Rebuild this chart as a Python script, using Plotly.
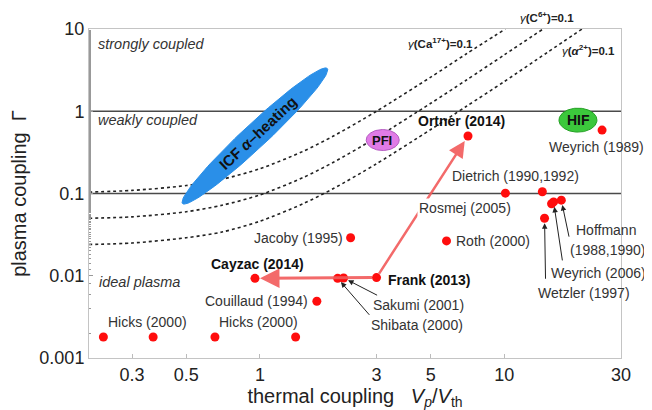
import numpy as np
import plotly.graph_objects as go

# ---------------- data ----------------
exp_names = ["Hicks (2000)", "Hicks (2000)", "Hicks (2000)", "Hicks (2000)",
             "Couillaud (1994)", "Cayzac (2014)", "Shibata (2000)", "Sakumi (2001)",
             "Frank (2013)", "Jacoby (1995)", "Roth (2000)",
             "Dietrich (1990)", "Dietrich (1992)", "Wetzler (1997)",
             "Weyrich (2006)", "Weyrich (2006)", "Hoffmann (1988,1990)",
             "Ortner (2014)", "Weyrich (1989)"]
exp_vp = [0.229, 0.366, 0.655, 1.40,
          1.71, 0.955, 2.08, 2.20,
          3.0, 2.35, 5.8,
          10.1, 14.3, 14.6,
          15.6, 15.9, 17.1,
          7.1, 25.1]
exp_gamma = [0.0018, 0.0018, 0.0018, 0.0018,
             0.0049, 0.0093, 0.0093, 0.0094,
             0.0095, 0.029, 0.0265,
             0.101, 0.105, 0.050,
             0.075, 0.079, 0.083,
             0.50, 0.59]

# gamma(ion)=0.1 curves
ca_vp = [0.2, 0.3, 0.5, 0.7, 1.0, 1.5, 2.0, 3.0, 5.0, 7.0, 10.1]
ca_gamma = [0.104, 0.109, 0.125, 0.149, 0.2, 0.325, 0.5, 1.0, 2.6, 5.0, 10.0]
c_vp = [0.2, 0.3, 0.5, 0.7, 1.0, 1.5, 2.0, 3.0, 5.0, 7.0, 10.0, 14.4]
c_gamma = [0.050, 0.052, 0.060, 0.072, 0.096, 0.156, 0.24, 0.48, 1.25, 2.4, 4.85, 10.0]
al_vp = [0.2, 0.3, 0.5, 0.7, 1.0, 1.5, 2.0, 3.0, 5.0, 7.0, 10.0, 15.0, 20.8]
al_gamma = [0.024, 0.025, 0.029, 0.034, 0.046, 0.075, 0.115, 0.23, 0.6, 1.15, 2.3, 5.2, 10.0]

boundary_gamma = [1.0, 0.1]

x_ticks = [0.3, 0.5, 1, 3, 5, 10, 30]
x_ticktext = ["0.3", "0.5", "1", "3", "5", "10", "30"]
y_ticks = [0.001, 0.01, 0.1, 1, 10]
y_ticktext = ["0.001", "0.01", "0.1", "1", "10"]

X_RANGE = [0.2, 30]
Y_RANGE = [0.001, 10]

# ---------------- layout geometry ----------------
OFF = 8                       # page body margin of the browser
SW, SH = 652, 410             # screen size
W, H = SW - OFF, SH - OFF     # figure size
PL, PR, PT, PB = 89, 621, 29, 358   # plot area on screen
ML, MT = PL - OFF, PT - OFF
MR, MB = W - (PR - OFF), H - (PB - OFF)
PW, PH = PR - PL, PB - PT
PXDX = PW / (np.log10(X_RANGE[1]) - np.log10(X_RANGE[0]))
PXDY = PH / (np.log10(Y_RANGE[1]) - np.log10(Y_RANGE[0]))

FONT = "Arial, Liberation Sans, Helvetica, sans-serif"
L = np.log10


def px(xp, yp):
    """screen pixel -> paper coords"""
    return (xp - PL) / PW, (PB - yp) / PH


def ellipse(xc, yc, a, b, ang, n=120):
    t = np.linspace(0, 2 * np.pi, n)
    th = np.radians(ang)
    dx = a * np.cos(t) * np.cos(th) - b * np.sin(t) * np.sin(th)
    dy = a * np.cos(t) * np.sin(th) + b * np.sin(t) * np.cos(th)
    return 10 ** (L(xc) + dx / PXDX), 10 ** (L(yc) + dy / PXDY)


fig = go.Figure()

# regime boundaries
for g in boundary_gamma:
    fig.add_trace(go.Scatter(x=X_RANGE, y=[g, g], mode="lines",
                             line=dict(color="#4a4a4a", width=1.3),
                             hoverinfo="skip", showlegend=False))

# gamma = 0.1 curves
for cx, cy in [(ca_vp, ca_gamma), (c_vp, c_gamma), (al_vp, al_gamma)]:
    fig.add_trace(go.Scatter(x=cx, y=cy, mode="lines",
                             line=dict(color="#222222", width=1.6, dash="3px,3px",
                                       shape="spline", smoothing=0.8),
                             hoverinfo="skip", showlegend=False))

# regions (ellipses)
ex, ey = ellipse(0.954, 0.50, 99, 12, 43)
fig.add_trace(go.Scatter(x=ex, y=ey, mode="lines", fill="toself",
                         fillcolor="#2a8fe8", line=dict(color="#2a8fe8", width=1),
                         hoverinfo="skip", showlegend=False))
ex, ey = ellipse(3.18, 0.447, 16.5, 10.5, 0)
fig.add_trace(go.Scatter(x=ex, y=ey, mode="lines", fill="toself",
                         fillcolor="#e07be6", line=dict(color="#b35ac0", width=1),
                         hoverinfo="skip", showlegend=False))
ex, ey = ellipse(20.0, 0.78, 19, 12, 0)
fig.add_trace(go.Scatter(x=ex, y=ey, mode="lines", fill="toself",
                         fillcolor="#3cc83c", line=dict(color="#22a022", width=1),
                         hoverinfo="skip", showlegend=False))

# experiments
fig.add_trace(go.Scatter(x=exp_vp, y=exp_gamma, mode="markers",
                         marker=dict(color="#ff0d0d", size=9, line=dict(width=0)),
                         text=exp_names, hoverinfo="text", showlegend=False))

ann = []


def label(text, xp, yp, size=14, color="#333333", **kw):
    x, y = px(xp, yp)
    d = dict(text=text, x=x, y=y, xref="paper", yref="paper", showarrow=False,
             xanchor="center", yanchor="middle",
             font=dict(family=FONT, size=size, color=color))
    d.update(kw)
    ann.append(d)


label("<i>strongly coupled</i>", 151, 44, 14.5)
label("<i>weakly coupled</i>", 148, 120, 14.5)
label("<i>ideal plasma</i>", 139, 282, 14.5)
label("Hicks (2000)", 147, 322)
label("Hicks (2000)", 258, 322)
label("Couillaud (1994)", 256, 301)
label("<b>Cayzac (2014)</b>", 257, 264, 14, "#111111")
label("Jacoby (1995)", 298, 238)
label("<b>Frank (2013)</b>", 429, 280, 14, "#111111")
label("Sakumi (2001)", 418, 305)
label("Shibata (2000)", 417, 325)
label("Roth (2000)", 493, 241)
label("Dietrich (1990,1992)", 515, 176)
label("<b>Ortner (2014)</b>", 461, 121, 14, "#111111")
label("Weyrich (1989)", 596, 147)
label("Hoffmann", 606, 230)
label("(1988,1990)", 608, 250)
label("Weyrich (2006)", 598, 273)
label("Wetzler (1997)", 584, 293)
label("<b>PFI</b>", 382, 140, 13, "#111111")
label("<b>HIF</b>", 578, 120, 14, "#111111")
label("<b>ICF <i>α</i>–heating</b>", 257, 133, 15, "#111111", textangle=-43)
label("<i>γ</i><b>(Ca<sup>17+</sup>)=0.1</b>", 440, 43, 11.5, "#222222")
label("<i>γ</i><b>(C<sup>6+</sup>)=0.1</b>", 547, 17, 11.5, "#222222")
label("<i>γ</i><b>(<i>α</i><sup>2+</sup>)=0.1</b>", 588, 50, 11.5, "#222222")

# red evolution arrows (data coords, log axes -> log10)
ann.append(dict(x=L(0.955), y=L(0.0093), ax=L(3.0), ay=L(0.0095),
                xref="x", yref="y", axref="x", ayref="y", text="",
                showarrow=True, arrowhead=2, arrowsize=1.3, arrowwidth=3,
                arrowcolor="rgba(242,90,90,0.9)", standoff=5, startstandoff=3))
ann.append(dict(x=L(7.1), y=L(0.50), ax=L(3.0), ay=L(0.0095),
                xref="x", yref="y", axref="x", ayref="y", text="",
                showarrow=True, arrowhead=2, arrowsize=1.3, arrowwidth=2.5,
                arrowcolor="rgba(242,90,90,0.9)", standoff=6, startstandoff=3))

# Rosmej label on top of red arrow (white background)
label("Rosmej (2005)", 465, 208, bgcolor="white")

# black pointer arrows
for (xv, gv, axp, ayp) in [(2.20, 0.0094, 35, 18), (2.08, 0.0093, 33, 38),
                           (14.6, 0.050, 1, 62), (15.9, 0.079, 9, 60),
                           (17.1, 0.083, 8, 38)]:
    ann.append(dict(x=L(xv), y=L(gv), ax=axp, ay=ayp, xref="x", yref="y",
                    text="", showarrow=True, arrowhead=2, arrowsize=1.1,
                    arrowwidth=1, arrowcolor="#222222", standoff=5))

fig.update_layout(
    width=W, height=H, margin=dict(l=ML, r=MR, t=MT, b=MB, autoexpand=False),
    paper_bgcolor="white", plot_bgcolor="white",
    font=dict(family=FONT, color="#222222"),
    annotations=ann, showlegend=False,
    xaxis=dict(type="log", range=[L(X_RANGE[0]), L(X_RANGE[1])], automargin=False,
               tickvals=x_ticks, ticktext=x_ticktext,
               ticks="inside", ticklen=4, tickcolor="#bbbbbb",
               showline=True, linecolor="#c4c4c4", linewidth=1, mirror=True,
               showgrid=False, zeroline=False,
               tickfont=dict(size=18, color="#222222"),
               title=dict(text="thermal coupling   <i>V</i><sub><i>p</i></sub>/<i>V</i><sub>th</sub>",
                          font=dict(size=20, color="#222222"), standoff=4)),
    yaxis=dict(type="log", range=[L(Y_RANGE[0]), L(Y_RANGE[1])], automargin=False,
               tickvals=y_ticks, ticktext=y_ticktext,
               ticks="inside", ticklen=4, tickcolor="#999999",
               minor=dict(ticks="inside", ticklen=2, tickcolor="#999999", showgrid=False),
               showline=True, linecolor="#c4c4c4", linewidth=1, mirror=True,
               showgrid=False, zeroline=False,
               tickfont=dict(size=18, color="#222222"),
               title=dict(text="plasma coupling  Γ",
                          font=dict(size=20, color="#222222"), standoff=12)),
)

fig.write_html("out.html")
